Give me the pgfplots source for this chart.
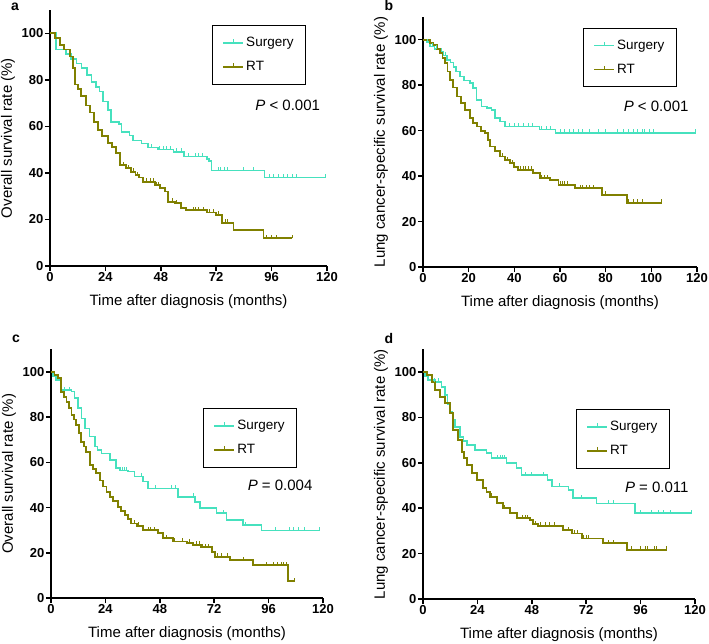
\documentclass[border=0pt]{standalone}
\usepackage{pgfplots}
\pgfplotsset{compat=1.18}
\usepackage{fontspec}
\setmainfont{Liberation Sans}
\definecolor{surg}{RGB}{70,225,190}
\definecolor{rtc}{RGB}{128,128,0}
\pgfdeclareplotmark{cens}{\pgfpathmoveto{\pgfpointorigin}\pgfpathlineto{\pgfpoint{0pt}{3.5pt}}\pgfusepathqstroke}
\pgfplotsset{
  kmaxis/.style={
    scale only axis,
    axis x line=bottom, axis y line=left,
    axis line style={line width=1.5pt,-,black},
    xmin=0, xmax=120, ymin=0, ymax=110,
    ytick={0,20,40,60,80,100},
    tick align=outside, major tick length=5pt,
    tick style={line width=1.5pt,black},
    /pgf/number format/assume math mode=true,
    ticklabel style={font=\fontsize{13}{13}\selectfont\bfseries, inner sep=1.5pt},
    xlabel style={font=\fontsize{15}{15}\selectfont, at={(axis description cs:0.5,0)}, anchor=center, yshift=-36pt},
    every axis y label/.style={at={(axis description cs:0,0.5)}, anchor=center, rotate=90, yshift=42pt, font=\fontsize{15}{15}\selectfont},
    xlabel={Time after diagnosis (months)},
    clip=false,
    legend cell align=left,
    legend style={draw=black, line width=0.8pt, font=\fontsize{13.5}{13.5}\selectfont, inner xsep=10pt, inner ysep=10pt, row sep=9pt, anchor=north west},
  },
  surgline/.style={surg, line width=1.6pt, const plot, mark=none,
    legend image code/.code={\draw[surg,line width=1.6pt] (0pt,0pt) -- (20pt,0pt); \draw[surg,line width=1pt] (10pt,0pt) -- (10pt,3.5pt);}},
  rtline/.style={rtc, line width=1.8pt, const plot, mark=none,
    legend image code/.code={\draw[rtc,line width=1.8pt] (0pt,0pt) -- (20pt,0pt); \draw[rtc,line width=1pt] (10pt,0pt) -- (10pt,3.5pt);}},
  surgcens/.style={surg, line width=1pt, only marks, mark=cens, forget plot},
  rtcens/.style={rtc, line width=1pt, only marks, mark=cens, forget plot},
}
\begin{document}
\begin{tikzpicture}
\useasboundingbox (0pt,0pt) rectangle (709pt,-643pt);
% ---------------- a
\begin{axis}[kmaxis, at={(50pt,-266pt)}, anchor=south west, width=277pt, height=256pt,
  xtick={0,24,48,72,96,120}, ylabel={Overall survival rate (\%)},
  legend style={at={(rel axis cs:0.585,0.941)}}]
\addplot[surgline] coordinates {(0,100)(2.7,93)(7,91)(9.2,89)(11.5,87)(13.6,85)(16,82)(17.9,79)(20,77)(21.5,75)(23,70.6)(25,67)(26.5,62)(30,61)(31,57.7)(34.5,56)(36,54)(39.6,52.7)(42.5,51)(46.8,50)(53.5,49)(58,47)(68,46)(69,45)(70,41)(93,38)(119.5,38)};
\addlegendentry{Surgery}
\addplot[rtline] coordinates {(0,100)(2,98)(4.2,95)(6,93)(8.5,90)(10,85)(10.7,78)(12,76)(13.6,73)(15.5,69)(17.2,66)(19,62)(20.8,58.4)(22.5,56)(25,53)(27,51)(28.7,48.4)(30.2,43.4)(33,42)(35.2,40.5)(37,39)(38.5,38)(40.3,36.2)(45.4,34.8)(47.5,33.5)(49.7,32)(51.1,27.6)(54,27)(56.9,24.8)(59,24)(68,23)(72,22)(74.5,18.5)(79.5,15.5)(92.5,12)(105,12)};
\addlegendentry{RT}
\addplot[surgcens] coordinates {(44,51)(47.5,50)(49,50)(50.5,50)(52,50)(55,49)(57,49)(60,47)(63,47)(64.5,47)(66,47)(73,41)(74,41)(75.5,41)(77,41)(84,41)(88,41)(95,38)(97,38)(99,38)(101,38)(103,38)(105,38)(107,38)(119.5,38)};
\addplot[rtcens] coordinates {(32,43.4)(34,42)(36,40.5)(38,39)(42,36.2)(43.5,36.2)(45,36.2)(46,34.8)(47,34.8)(48,33.5)(53,27.6)(55,27)(62,24)(63,24)(64.5,24)(66.5,24)(69,23)(71,23)(73,22)(76,18.5)(77,18.5)(94,12)(96,12)(98,12)(105,12)};
\node[anchor=east, font=\fontsize{15}{15}\selectfont] at (axis cs:118.5,69) {\textit{P} < 0.001};
\end{axis}
% ---------------- b
\begin{axis}[kmaxis, at={(423pt,-267pt)}, anchor=south west, width=274pt, height=250pt,
  xtick={0,20,40,60,80,100,120}, ylabel={Lung cancer-specific survival rate (\%)},
  legend style={at={(rel axis cs:0.584,0.957)}}]
\addplot[surgline] coordinates {(0,100)(1.5,99)(3,97)(5,96)(7.4,94.8)(9,93)(10.4,91)(12,90)(13.3,88)(14.5,86)(16.2,83.8)(18,82)(20.6,81)(22,78.7)(23.5,73.6)(25.7,70.6)(28,70)(30,69.2)(31.5,65.5)(33.7,64)(36,61.8)(51,60.5)(58,59)(119.5,59)};
\addlegendentry{Surgery}
\addplot[rtline] coordinates {(0,100)(3,98.5)(4.5,97.8)(6,96)(7.4,94)(8.5,92)(9.6,89.7)(10.7,86)(11.8,82.4)(13.3,79)(14.8,75)(16.5,72)(18.4,69.2)(20.6,65.5)(22,63.5)(23.5,61.8)(25.5,60)(27.2,58.9)(28.5,56)(29.3,53)(31.5,51)(33.7,48.6)(36,47)(38,45.7)(40,44)(41.7,42.7)(48.3,41.3)(51.2,39)(55.6,38.3)(59.3,36.1)(66.6,34.7)(78.3,31.7)(89.2,28.3)(104.5,28.3)};
\addlegendentry{RT}
\addplot[surgcens] coordinates {(2,99)(4,97)(6,96)(8,94.8)(10,93)(38,61.8)(40,61.8)(42,61.8)(44,61.8)(46,61.8)(48,61.8)(52,60.5)(54,60.5)(56,60.5)(60,59)(62,59)(64,59)(66,59)(68,59)(70,59)(73,59)(77,59)(80,59)(85,59)(88,59)(90,59)(92,59)(94,59)(96,59)(97,59)(99,59)(101,59)(119.5,59)};
\addplot[rtcens] coordinates {(35,48.6)(37,47)(39,45.7)(42.5,42.7)(44,42.7)(45,42.7)(46,42.7)(47.5,42.7)(52,39)(53,39)(54.5,39)(60,36.1)(61,36.1)(62,36.1)(63.5,36.1)(67,34.7)(69,34.7)(70,34.7)(71.5,34.7)(73,34.7)(74.5,34.7)(80,31.7)(90,28.3)(92,28.3)(94,28.3)(96,28.3)(104.5,28.3)};
\node[anchor=east, font=\fontsize{15}{15}\selectfont] at (axis cs:117.8,70.9) {\textit{P} < 0.001};
\end{axis}
% ---------------- c
\begin{axis}[kmaxis, at={(51pt,-598pt)}, anchor=south west, width=272pt, height=248.6pt,
  xtick={0,24,48,72,96,120}, ylabel={Overall survival rate (\%)},
  legend style={at={(rel axis cs:0.559,0.764)}}]
\addplot[surgline] coordinates {(0,100)(1,98)(2.3,96.5)(4.5,92)(9,91.3)(10.4,88.4)(11.9,84)(13.4,79.5)(14.9,75)(17,71.4)(19.3,67)(20.5,65.5)(22.2,64)(25.9,61)(28.8,57.4)(30.5,56.5)(34,55.9)(36.9,53.7)(40.6,51.5)(42.8,48.5)(56,44.8)(63.5,42.5)(65.7,39.7)(73.1,37.5)(77.5,34.5)(84.8,32.3)(92.9,29.8)(118.5,29.8)};
\addlegendentry{Surgery}
\addplot[rtline] coordinates {(0,100)(1.5,98.5)(3.1,97.2)(4.5,91.3)(5.6,89)(6.8,86.9)(8,84)(9,81)(10,79)(11.2,76.5)(12.3,73)(13.4,69.2)(14.5,67)(15.6,64.7)(17.1,58.8)(18.5,57)(20,55.2)(21.5,52)(22.9,49.3)(24.5,47)(25.9,44.8)(27.5,43)(29.6,40.4)(31,38.5)(32.5,36.7)(34,35)(35.4,33)(38,32)(40.6,30)(47.2,28.6)(49.4,26.4)(53.8,25)(60,24.5)(62.8,23.5)(66,22.5)(70.9,20.5)(72.3,18.3)(79,16.8)(89.2,14.6)(104.7,7.5)(107.6,7.5)};
\addlegendentry{RT}
\addplot[surgcens] coordinates {(6,92)(8,92)(31.5,56.5)(32.5,56.5)(33.5,56.5)(40,53.7)(46,48.5)(53,48.5)(55,48.5)(63,44.8)(76,37.5)(86,32.3)(99,29.8)(105,29.8)(107,29.8)(109,29.8)(112,29.8)(118.5,29.8)};
\addplot[rtcens] coordinates {(33,36.7)(37,33)(38.5,32)(43,30)(44,30)(45.5,30)(51,26.4)(54.5,25)(58,25)(61,24.5)(64,23.5)(65.5,23.5)(67,22.5)(68,22.5)(69.5,22.5)(73.5,18.3)(75,18.3)(78,18.3)(85,16.8)(95,14.6)(98,14.6)(100,14.6)(101.5,14.6)(102.5,14.6)(104,14.6)(107.6,7.5)};
\node[anchor=east, font=\fontsize{15}{15}\selectfont] at (axis cs:116.9,50) {\textit{P} = 0.004};
\end{axis}
% ---------------- d
\begin{axis}[kmaxis, at={(423pt,-599pt)}, anchor=south west, width=272pt, height=249.7pt,
  xtick={0,24,48,72,96,120}, ylabel={Lung cancer-specific survival rate (\%)},
  legend style={at={(rel axis cs:0.5625,0.761)}}]
\addplot[surgline] coordinates {(0,100)(0.9,98)(2.3,96.5)(5.3,95.7)(8.2,93.5)(9.7,89.9)(10.8,86)(11.9,82.5)(13,79)(14.1,75.9)(16.3,71.5)(17.8,69.5)(19.3,67.8)(22.9,65.6)(28.1,64.2)(30.3,62)(36.9,59.8)(41.3,57.6)(43.5,54.6)(55,52.4)(56.8,49.5)(64.1,48)(66.3,44.4)(76.6,42.1)(93.5,37.8)(118.5,37.8)};
\addlegendentry{Surgery}
\addplot[rtline] coordinates {(0,100)(1.6,98.7)(3.8,95.7)(5.3,92)(7.5,89.1)(9.7,86.2)(11.9,81.8)(13.4,74.4)(15.6,70)(17.1,64.9)(18.2,62)(19.3,59)(21.5,55.4)(23.7,52.4)(26.6,48.8)(28,47)(29.6,45.1)(32.5,42.2)(35.4,40)(38.4,37.8)(41.3,35.6)(47.2,34.8)(48.6,33)(50.9,32.2)(61.9,30.4)(65.6,28.9)(70,26.7)(79.5,24.5)(89.9,21.6)(107.5,21.6)};
\addlegendentry{RT}
\addplot[surgcens] coordinates {(5,95.7)(7,95.7)(33,62)(34,62)(35,62)(36,62)(45,54.6)(48,54.6)(53,54.6)(60,49.5)(70,44.4)(82,42.1)(84,42.1)(96,37.8)(101,37.8)(104,37.8)(106,37.8)(109,37.8)(118.5,37.8)};
\addplot[rtcens] coordinates {(30,45.1)(36,40)(44,35.6)(45,35.6)(46,35.6)(49.5,33)(52,32.2)(54,32.2)(56,32.2)(58,32.2)(62,30.4)(64,30.4)(67,28.9)(68,28.9)(71,26.7)(72,26.7)(73,26.7)(82,24.5)(84,24.5)(92,21.6)(96,21.6)(98,21.6)(99,21.6)(102,21.6)(103,21.6)(107.5,21.6)};
\node[anchor=east, font=\fontsize{15}{15}\selectfont] at (axis cs:118.7,49.3) {\textit{P} = 0.011};
\end{axis}
% panel letters
\node[anchor=base, font=\fontsize{14}{14}\selectfont\bfseries] at (15pt,-10pt) {a};
\node[anchor=base, font=\fontsize{14}{14}\selectfont\bfseries] at (389pt,-10pt) {b};
\node[anchor=base, font=\fontsize{14}{14}\selectfont\bfseries] at (16pt,-342pt) {c};
\node[anchor=base, font=\fontsize{14}{14}\selectfont\bfseries] at (389pt,-343pt) {d};
\end{tikzpicture}
\end{document}
